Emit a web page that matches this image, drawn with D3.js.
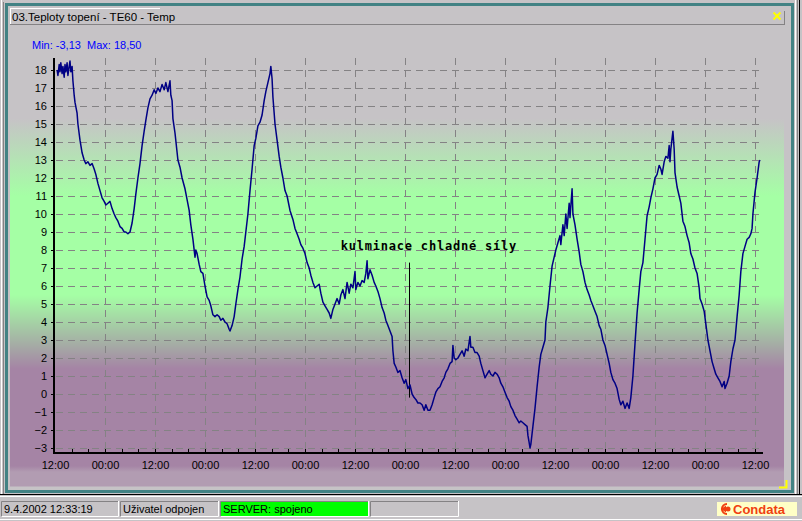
<!DOCTYPE html>
<html><head><meta charset="utf-8">
<script src="https://cdn.jsdelivr.net/npm/d3@7"></script>
<style>html,body{margin:0;padding:0;background:#c6c3c6;overflow:hidden}svg{display:block}</style>
</head><body><svg id="c" width="802" height="521"></svg>
<script>
const title = "03.Teploty topení - TE60 - Temp";
const minMaxLabel = "Min: -3,13  Max: 18,50";
const xTickHours = [0,12,24,36,48,60,72,84,96,108,120,132,144,156,168];
const xTickLabels = ["12:00","00:00","12:00","00:00","12:00","00:00","12:00","00:00","12:00","00:00","12:00","00:00","12:00","00:00","12:00"];
const yTicks = [-3,-2,-1,0,1,2,3,4,5,6,7,8,9,10,11,12,13,14,15,16,17,18];
const bandLimits = [15.3, 11.0, 5.5, 1.4];
const annotation = {hour: 85.0, top: 7.3, bottom: -0.2, text: "kulminace chladné síly", textHour: 68.6, textValue: 8.0};
const statusTexts = ["9.4.2002 12:33:19", "Uživatel odpojen", "SERVER: spojeno", ""];
const brand = "Condata";

const hours = [0.5,0.7,1.0,1.2,1.4,1.7,1.9,2.2,2.4,2.6,2.9,3.1,3.4,3.6,3.8,4.1,4.3,4.6,4.8,5.3,5.5,6.0,6.5,7.0,7.4,7.9,8.4,8.9,9.4,9.8,10.3,10.8,11.3,11.8,12.2,12.7,13.2,13.7,14.2,14.6,15.1,15.6,16.1,16.6,17.0,17.5,18.0,18.5,19.0,19.4,19.9,20.4,20.9,21.4,21.8,22.3,22.8,23.3,23.8,24.2,24.7,25.2,25.7,26.2,26.6,27.1,27.6,27.8,28.1,28.3,28.8,29.5,30.0,30.5,31.2,31.7,32.2,32.6,33.1,33.6,33.8,34.1,34.6,35.0,35.5,36.0,36.5,37.0,37.4,37.9,38.4,38.9,39.4,39.8,40.3,40.8,41.3,41.8,42.0,42.5,43.0,43.4,43.9,44.4,44.9,45.4,45.8,46.3,46.8,47.3,47.8,48.2,48.7,49.2,49.7,50.2,50.6,51.1,51.6,51.8,52.1,52.3,52.8,53.3,53.8,54.2,54.7,55.2,55.7,56.4,57.1,57.6,58.1,58.6,59.0,59.5,60.0,60.5,61.0,61.4,61.9,62.4,62.9,63.4,63.8,64.3,64.8,65.3,65.8,66.2,66.7,67.2,67.7,68.2,68.6,69.1,69.6,70.1,70.6,71.0,71.5,72.0,72.2,72.7,73.2,73.7,74.2,74.6,74.9,75.1,75.6,76.1,76.6,77.0,77.5,78.0,78.5,79.0,79.4,79.9,80.4,80.9,81.1,81.4,81.8,82.3,82.8,83.3,83.8,84.2,84.7,85.2,85.7,86.2,86.6,87.1,87.6,88.1,88.6,89.0,89.5,90.0,90.5,91.0,91.4,91.9,92.4,92.9,93.4,93.8,94.3,94.8,95.3,95.5,95.8,96.2,96.7,97.2,97.7,98.2,98.6,99.1,99.6,99.8,100.3,100.8,101.3,101.8,102.2,102.7,103.2,103.7,104.2,104.6,105.1,105.6,106.1,106.6,107.0,107.5,108.0,108.5,109.0,109.4,109.9,110.4,110.9,111.4,111.8,112.3,112.8,113.3,113.5,113.8,114.0,114.2,114.5,114.7,115.2,115.7,116.2,116.6,117.1,117.6,117.8,118.3,118.8,119.3,119.8,120.2,120.7,121.2,121.4,121.9,122.2,122.6,122.9,123.4,123.6,124.1,124.3,124.8,125.3,125.8,126.2,126.7,127.2,127.7,128.2,128.6,129.1,129.6,130.1,130.6,131.0,131.5,132.0,132.5,133.0,133.4,133.9,134.4,134.9,135.4,135.8,136.3,136.8,137.3,137.8,138.2,138.7,139.2,139.7,140.2,140.6,141.1,141.6,142.1,142.6,143.0,143.5,144.0,144.5,145.0,145.4,145.7,146.2,146.6,147.1,147.4,147.6,147.8,148.1,148.3,148.6,148.8,149.3,149.8,150.2,150.7,151.2,151.7,152.2,152.6,153.1,153.6,154.1,154.6,154.8,155.3,155.8,156.2,156.7,157.2,157.7,158.2,158.6,159.1,159.6,160.1,160.6,160.8,161.3,161.8,162.2,162.7,163.2,163.7,164.2,164.6,165.1,165.6,166.1,166.6,167.0,167.3,167.5,168.0,168.5,169.0,169.2];
const temps = [18.0,17.7,18.3,17.9,18.4,17.8,18.2,17.6,18.3,17.9,18.4,17.7,18.2,18.5,17.9,18.2,17.4,16.6,16.2,15.6,15.0,14.1,13.4,13.0,12.8,12.9,12.7,12.8,12.5,12.2,11.7,11.3,10.9,10.7,10.5,10.6,10.7,10.3,10.0,9.8,9.6,9.3,9.2,9.0,9.0,8.9,9.0,9.5,10.3,11.1,12.0,12.8,13.8,14.6,15.2,15.9,16.4,16.6,16.9,16.7,17.0,16.8,17.2,16.9,17.3,16.8,17.4,16.6,16.3,15.3,14.5,13.0,12.6,12.0,11.4,10.8,10.2,9.4,8.6,7.6,8.0,7.8,7.2,6.8,6.7,6.0,5.4,5.2,4.9,4.4,4.3,4.4,4.3,4.1,4.2,4.0,3.9,3.6,3.5,3.8,4.3,5.0,5.8,6.5,7.5,8.2,9.0,10.0,11.3,12.5,13.8,14.2,14.9,15.1,15.5,16.3,16.8,17.3,17.8,18.2,17.5,16.5,15.0,14.1,13.2,12.6,12.0,11.3,11.0,10.2,9.7,9.2,8.9,8.6,8.3,8.1,7.8,7.3,7.0,6.6,6.2,5.9,6.0,6.1,5.6,5.1,4.9,4.7,4.5,4.2,4.7,5.0,5.3,5.0,5.5,5.8,5.3,6.2,5.6,6.1,5.9,6.8,5.8,6.2,6.0,6.3,6.2,6.7,7.4,6.4,6.9,6.6,6.2,6.0,5.7,5.3,4.8,4.5,4.1,3.8,3.5,3.2,2.4,1.7,1.5,1.2,1.3,0.9,0.6,0.8,0.3,0.5,0.0,-0.2,-0.3,-0.5,-0.5,-0.6,-0.9,-0.6,-0.9,-0.9,-0.6,-0.2,0.1,0.3,0.4,0.7,0.9,1.2,1.4,1.7,1.8,2.7,2.0,1.9,2.0,2.2,2.4,2.1,2.5,2.4,3.2,2.6,2.6,2.3,2.3,2.1,1.7,1.3,0.9,1.1,1.3,1.1,1.0,1.2,1.1,0.9,0.6,0.4,0.1,-0.2,-0.4,-0.7,-0.9,-1.2,-1.4,-1.6,-1.5,-1.6,-1.7,-1.8,-2.3,-2.7,-3.0,-2.8,-2.2,-1.8,-0.8,0.4,1.5,2.2,2.6,3.0,4.0,4.8,6.0,7.1,7.6,8.0,8.4,8.8,8.3,9.4,8.8,10.0,9.2,10.6,9.8,11.4,10.0,9.4,8.6,7.9,7.2,6.8,6.2,5.8,5.5,5.2,4.9,4.6,4.3,3.8,3.6,3.0,2.7,2.2,1.7,1.2,0.8,0.6,0.3,-0.3,-0.6,-0.4,-0.8,-0.5,-0.8,-0.2,1.0,2.8,4.5,5.8,6.8,7.3,8.6,9.9,10.4,10.9,11.4,12.0,12.2,12.7,12.5,12.2,12.9,13.2,13.1,13.8,12.9,13.6,14.2,14.6,13.6,12.3,11.5,11.0,10.6,9.6,9.3,8.8,8.4,7.8,7.5,7.0,6.7,5.9,5.3,5.0,4.6,3.9,3.0,2.4,1.8,1.4,1.1,0.9,0.7,0.4,0.7,0.3,0.6,1.0,1.8,2.5,3.0,4.3,5.5,6.8,7.8,8.2,8.6,8.7,8.9,9.2,10.0,11.2,12.0,12.9,13.0];

const svg = d3.select("#c");
const W = 802, H = 521;
const x = d3.scaleLinear().domain([0,168]).range([55,755]);
const y = d3.scaleLinear().domain([-3,18]).range([448,70]);
const plotTop = 58, plotBottom = 452, plotLeft = 54, plotRight = 763;
const panelL = 10, panelR = 784, panelT = 28, panelB = 487;

// ---------- window frame ----------
svg.append("rect").attr("x",0).attr("y",0).attr("width",W).attr("height",H).attr("fill","#c6c3c6");
// outer teal frame
svg.append("rect").attr("x",6.5).attr("y",4.5).attr("width",786).attr("height",487).attr("fill","none").attr("stroke","#428284").attr("stroke-width",3);
svg.append("line").attr("x1",1.5).attr("y1",0).attr("x2",1.5).attr("y2",494).attr("stroke","#ffffff");
svg.append("line").attr("x1",3.5).attr("y1",2).attr("x2",3.5).attr("y2",494).attr("stroke","#848284");
svg.append("line").attr("x1",795.5).attr("y1",0).attr("x2",795.5).attr("y2",494).attr("stroke","#ffffff");
svg.append("line").attr("x1",797.5).attr("y1",0).attr("x2",797.5).attr("y2",494).attr("stroke","#848284");
svg.append("line").attr("x1",799.5).attr("y1",0).attr("x2",799.5).attr("y2",494).attr("stroke","#000000");
svg.append("line").attr("x1",0).attr("y1",494.5).attr("x2",W).attr("y2",494.5).attr("stroke","#000000");
svg.append("line").attr("x1",0).attr("y1",496.5).attr("x2",W).attr("y2",496.5).attr("stroke","#ffffff");

// header bar
const hdr = svg.append("g");
hdr.append("rect").attr("x",8).attr("y",7).attr("width",779).attr("height",21).attr("fill","#c6c3c6");
hdr.append("line").attr("x1",10.5).attr("y1",8).attr("x2",10.5).attr("y2",24).attr("stroke","#ffffff");
hdr.append("line").attr("x1",10).attr("y1",8.5).attr("x2",160).attr("y2",8.5).attr("stroke","#ffffff");
hdr.append("line").attr("x1",10).attr("y1",24.5).attr("x2",785).attr("y2",24.5).attr("stroke","#848284");
hdr.append("line").attr("x1",784.5).attr("y1",11).attr("x2",784.5).attr("y2",25).attr("stroke","#848284");
hdr.append("text").attr("x",12).attr("y",20.5).attr("font-family","Liberation Sans, Arial, sans-serif").attr("font-size","11.5px").attr("fill","#000").text(title);
// yellow close X
hdr.append("path").attr("d","M773.5,12.5 L780.5,19.5 M780.5,12.5 L773.5,19.5").attr("stroke","#ffff00").attr("stroke-width",2);

// ---------- panel background with bands ----------
const defs = svg.append("defs");
const grad = defs.append("linearGradient").attr("id","bg").attr("gradientUnits","userSpaceOnUse")
  .attr("x1",0).attr("y1",0).attr("x2",0).attr("y2",H);
const gray = "#c6c3c6", green = "#a5ffa5", purple = "#a584a5", lilac = "#b29cb2";
const stops = [
  [0, gray], [y(bandLimits[0]), gray], [y(bandLimits[1]), green],
  [y(bandLimits[2]), green], [y(bandLimits[3]), purple],
  [466, purple], [472, lilac], [486, lilac], [487, gray]
];
stops.forEach(s => grad.append("stop").attr("offset", (s[0]/H)).attr("stop-color", s[1]));
svg.append("rect").attr("x",panelL).attr("y",panelT).attr("width",panelR-panelL).attr("height",panelB-panelT).attr("fill","url(#bg)");
// yellow corner marker
svg.append("path").attr("d","M779,487.5 H786.5 V480").attr("fill","none").attr("stroke","#ffff00").attr("stroke-width",2);

// ---------- min / max label ----------
svg.append("text").attr("x",32).attr("y",49).attr("font-family","Liberation Sans, Arial, sans-serif")
  .attr("font-size","11px").attr("fill","#0000ff").style("white-space","pre").text(minMaxLabel);

// ---------- grid ----------
const grid = svg.append("g").attr("stroke","#848284").attr("stroke-width",1).attr("stroke-dasharray","7,5");
grid.selectAll("line.h").data(yTicks).join("line").attr("class","h")
  .attr("x1",plotLeft+2).attr("x2",plotRight).attr("y1",d=>Math.round(y(d))+0.5).attr("y2",d=>Math.round(y(d))+0.5);
grid.selectAll("line.v").data(xTickHours.slice(1)).join("line").attr("class","v")
  .attr("x1",d=>Math.round(x(d))+0.5).attr("x2",d=>Math.round(x(d))+0.5).attr("y1",plotTop).attr("y2",plotBottom);

// ---------- axes ----------
const yAxis = svg.append("g").attr("transform",`translate(${plotLeft},0)`)
  .call(d3.axisLeft(y).tickValues(yTicks).tickSize(3).tickPadding(4).tickFormat(d3.format("d")));
yAxis.select(".domain").remove();
yAxis.selectAll("text").attr("font-family","Liberation Sans, Arial, sans-serif").attr("font-size","11px").attr("fill","#000");
yAxis.selectAll("line").attr("stroke","#000");

const xAxis = svg.append("g").attr("transform",`translate(0,${plotBottom})`)
  .call(d3.axisBottom(x).tickValues(xTickHours).tickSize(0).tickPadding(9).tickFormat((d,i)=>xTickLabels[i]));
xAxis.select(".domain").remove();
xAxis.selectAll("text").attr("font-family","Liberation Sans, Arial, sans-serif").attr("font-size","11px").attr("fill","#000");

// minor ticks every 4 h
svg.append("g").selectAll("line").data(d3.range(4,170,4)).join("line")
  .attr("x1",d=>Math.round(x(d))+0.5).attr("x2",d=>Math.round(x(d))+0.5)
  .attr("y1",plotBottom-3).attr("y2",plotBottom).attr("stroke","#000");

// axis lines
svg.append("rect").attr("x",plotLeft-1).attr("y",plotTop).attr("width",2).attr("height",plotBottom-plotTop+2).attr("fill","#000");
svg.append("rect").attr("x",plotLeft-1).attr("y",plotBottom).attr("width",plotRight-plotLeft+1).attr("height",2).attr("fill","#000");

// ---------- annotation ----------
svg.append("line").attr("x1",Math.round(x(annotation.hour))+0.5).attr("x2",Math.round(x(annotation.hour))+0.5)
  .attr("y1",y(annotation.top)).attr("y2",y(annotation.bottom)).attr("stroke","#000").attr("stroke-width",1);
svg.append("text").attr("x",x(annotation.textHour)).attr("y",y(annotation.textValue))
  .attr("font-family","DejaVu Sans Mono, monospace").attr("font-weight","bold").attr("font-size","12px")
  .attr("letter-spacing","0.78px").attr("fill","#000").text(annotation.text);

// ---------- data line ----------
const pts = hours.map((h,i)=>[h,temps[i]]);
svg.append("path").datum(pts).attr("fill","none").attr("stroke","#000084").attr("stroke-width",1.5)
  .attr("stroke-linejoin","round")
  .attr("d", d3.line().x(d=>x(d[0])).y(d=>y(d[1])));

// ---------- status bar ----------
const sb = svg.append("g").attr("font-family","Liberation Sans, Arial, sans-serif").attr("font-size","11px");
const fields = [[1,118],[120,218],[220,368],[370,458]];
fields.forEach((f,i)=>{
  const [a,b] = f;
  if (i===2) sb.append("rect").attr("x",a+1).attr("y",502).attr("width",b-a-1).attr("height",14).attr("fill","#00ff00");
  sb.append("path").attr("d",`M${a+0.5},516 V501.5 H${b}`).attr("fill","none").attr("stroke","#848284");
  sb.append("path").attr("d",`M${a+1},516.5 H${b+0.5} V501`).attr("fill","none").attr("stroke","#ffffff");
  if (statusTexts[i]) sb.append("text").attr("x",a+3).attr("y",513).attr("fill","#000").text(statusTexts[i]);
});
// brand
sb.append("rect").attr("x",717).attr("y",502).attr("width",80).attr("height",14).attr("fill","#ffffc6");
sb.append("path").attr("d","M727,504 A5,5 0 1,0 727,514").attr("fill","none").attr("stroke","#f04010").attr("stroke-width",2.2);
sb.append("path").attr("d","M721,509 L726,505.5 L726,512.5 Z").attr("fill","#f04010");
sb.append("circle").attr("cx",728).attr("cy",509).attr("r",2.5).attr("fill","#f04010");
sb.append("text").attr("x",733).attr("y",514).attr("font-weight","bold").attr("font-size","13px").attr("fill","#f04010").text(brand);
svg.append("line").attr("x1",0).attr("y1",519.5).attr("x2",W).attr("y2",519.5).attr("stroke","#ffffff");
</script></body></html>
